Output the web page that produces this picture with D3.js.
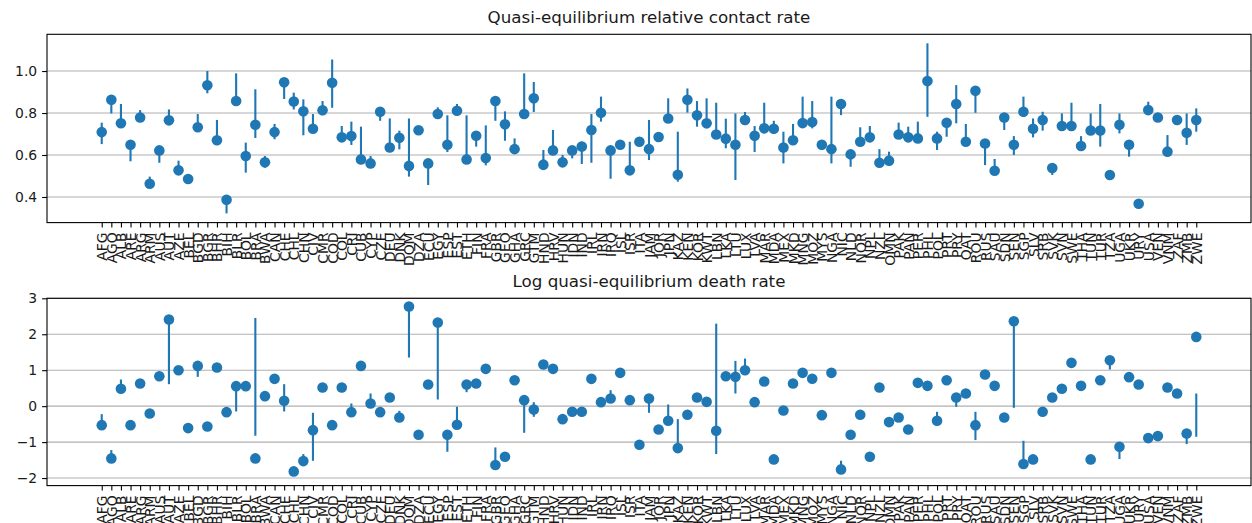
<!DOCTYPE html>
<html>
<head>
<meta charset="utf-8">
<script src="https://cdn.jsdelivr.net/npm/d3@7"></script>
<style>
  html, body { margin: 0; padding: 0; background: #fff; }
  svg { display: block; }
  text { font-family: "DejaVu Sans", sans-serif; fill: #1a1a1a; }
</style>
</head>
<body>
<svg id="chart" width="1252" height="523"></svg>
<script>
// Country codes along the x axis
const countries = [
  "AFG","AGO","ALB","ARE","ARG","ARM","AUS","AUT","AZE",
  "BEL","BGD","BGR","BHR","BIH","BLR","BOL","BRA","BWA",
  "CAN","CHE","CHL","CHN","CIV","CMR","COD","COL","CRI","CUB","CYP","CZE",
  "DEU","DNK","DOM","DZA",
  "ECU","EGY","ESP","EST","ETH",
  "FIN","FRA",
  "GBR","GEO","GHA","GRC","GTM",
  "HND","HRV","HUN",
  "IDN","IND","IRL","IRN","IRQ","ISL","ISR","ITA",
  "JAM","JOR","JPN",
  "KAZ","KEN","KOR","KWT",
  "LBN","LKA","LTU","LUX","LVA",
  "MAR","MDA","MEX","MKD","MNG","MOZ","MYS",
  "NGA","NIC","NLD","NOR","NPL","NZL",
  "OMN",
  "PAK","PAN","PER","PHL","POL","PRT","PRY",
  "QAT",
  "ROU","RUS",
  "SAU","SDN","SEN","SGP","SLV","SRB","SVK","SVN","SWE",
  "THA","TUN","TUR","TZA",
  "UGA","UKR","URY","USA",
  "VEN","VNM",
  "ZAF","ZMB","ZWE"
];

// Quasi-equilibrium relative contact rate: estimate and interval ends
const contactValue = [
  0.709,0.863,0.751,0.649,0.779,0.463,0.622,0.765,0.527,0.486,
  0.732,0.932,0.670,0.387,0.857,0.595,0.744,0.565,0.709,0.946,
  0.855,0.808,0.725,0.813,0.944,0.684,0.690,0.579,0.560,0.806,
  0.636,0.682,0.548,0.718,0.560,0.795,0.649,0.811,0.579,0.692,
  0.586,0.857,0.746,0.628,0.795,0.870,0.554,0.622,0.565,0.622,
  0.640,0.719,0.801,0.622,0.649,0.527,0.663,0.628,0.686,0.774,
  0.506,0.863,0.789,0.751,0.698,0.678,0.649,0.767,0.692,0.727,
  0.725,0.636,0.670,0.752,0.757,0.649,0.628,0.843,0.603,0.663,
  0.684,0.563,0.573,0.698,0.684,0.679,0.952,0.679,0.754,0.843,
  0.663,0.906,0.655,0.525,0.779,0.649,0.806,0.725,0.767,0.538,
  0.738,0.738,0.643,0.717,0.717,0.505,0.744,0.649,0.368,0.814,
  0.779,0.616,0.767,0.706,0.767
];
const contactLow = [
  0.652,0.798,0.751,0.570,0.779,0.463,0.563,0.765,0.527,null,
  0.732,0.894,0.670,0.322,0.857,0.516,0.681,0.540,0.675,0.867,
  0.817,0.694,0.725,0.790,0.825,0.663,0.648,0.579,0.560,0.763,
  0.636,0.627,0.497,null,0.457,0.795,0.614,0.811,0.579,0.640,
  0.551,0.763,0.668,0.628,0.795,0.805,0.528,0.622,0.544,0.584,
  0.557,0.563,0.759,0.487,0.636,0.527,null,0.576,0.686,0.774,
  0.473,0.802,0.735,0.727,0.698,0.632,0.481,0.767,0.614,0.727,
  0.703,0.560,0.670,0.752,0.727,0.624,0.560,0.790,0.544,0.663,
  0.663,0.540,0.549,0.679,0.663,0.679,0.782,0.624,0.687,0.751,
  0.663,0.801,0.552,0.525,0.719,0.600,0.782,0.684,0.716,0.505,
  0.719,0.719,0.624,0.695,0.640,0.484,0.703,0.592,null,0.798,
  0.759,0.600,0.752,0.648,0.711
];
const contactHigh = [
  0.754,0.863,0.843,0.649,0.814,0.497,0.622,0.817,0.573,null,
  0.795,1.000,0.767,0.387,0.989,0.659,0.913,0.595,0.748,0.965,
  0.897,0.865,0.795,0.857,1.055,0.738,0.759,0.735,0.595,0.806,
  0.774,0.716,0.774,null,0.560,0.827,0.789,0.843,0.789,0.692,
  0.741,0.857,0.808,0.679,0.989,0.948,0.624,0.719,0.600,0.640,
  0.663,0.795,0.878,0.644,0.663,0.663,null,0.767,0.706,0.870,
  0.711,0.917,0.857,0.870,0.849,0.773,0.798,0.805,0.738,0.849,
  0.763,0.711,0.748,0.878,0.857,0.671,0.878,0.862,0.603,0.732,
  0.738,0.628,0.616,0.754,0.735,0.759,1.132,0.711,0.774,0.933,
  0.748,0.922,0.671,0.581,0.798,0.690,0.878,0.774,0.806,0.560,
  0.798,0.849,0.690,0.798,0.843,0.521,0.798,0.671,null,0.854,
  0.798,0.695,0.783,0.798,0.822
];

// Log quasi-equilibrium death rate: estimate and interval ends
const deathValue = [
  -0.528,-1.453,0.482,-0.528,0.630,-0.204,0.833,2.407,1.000,-0.611,
  1.120,-0.565,1.074,-0.167,0.556,0.556,-1.453,0.278,0.759,0.148,
  -1.815,-1.528,-0.667,0.519,-0.528,0.519,-0.167,1.120,0.074,-0.167,
  0.241,-0.315,2.770,-0.796,0.602,2.324,-0.796,-0.519,0.602,0.630,
  1.037,-1.639,-1.407,0.722,0.167,-0.093,1.157,1.037,-0.361,-0.157,
  -0.157,0.759,0.111,0.213,0.926,0.167,-1.074,0.213,-0.648,-0.407,
  -1.167,-0.241,0.241,0.120,-0.685,0.833,0.815,1.000,0.111,0.685,
  -1.481,-0.120,0.630,0.926,0.764,-0.250,0.926,-1.759,-0.796,-0.241,
  -1.407,0.519,-0.444,-0.315,-0.648,0.648,0.565,-0.407,0.722,0.241,
  0.352,-0.528,0.880,0.565,-0.315,2.361,-1.611,-1.481,-0.157,0.241,
  0.482,1.204,0.565,-1.481,0.722,1.278,-1.130,0.806,0.602,-0.889,
  -0.833,0.519,0.352,-0.759,1.926
];
const deathLow = [
  -0.528,-1.453,0.482,null,null,null,null,0.611,null,null,
  0.815,null,null,null,-0.148,null,-0.824,null,null,-0.148,
  null,-1.528,-1.519,null,null,null,-0.167,null,-0.019,-0.220,
  null,-0.315,1.352,null,null,0.185,-1.269,-0.519,0.389,null,
  null,-1.639,null,null,-0.741,-0.296,null,null,null,null,
  null,null,null,0.213,0.850,null,null,-0.185,null,-0.407,
  -1.167,null,null,null,-1.333,null,0.352,1.000,null,null,
  null,null,null,null,null,null,0.926,-1.759,-0.796,null,
  null,null,null,null,null,null,null,-0.407,null,-0.019,
  null,-0.944,null,null,null,-0.046,-1.611,null,null,null,
  null,null,null,null,null,1.019,-1.472,null,null,null,
  null,null,null,-1.056,-0.852
];
const deathHigh = [
  -0.222,-1.222,0.741,null,null,null,null,2.407,null,null,
  1.120,null,null,null,0.556,null,2.454,null,null,0.611,
  null,-1.333,-0.185,null,null,null,0.074,null,0.352,-0.110,
  null,-0.130,2.770,null,null,2.324,-0.796,-0.019,0.602,null,
  null,-1.148,null,null,0.167,0.111,null,null,null,null,
  null,null,null,0.444,1.000,null,null,0.213,null,0.046,
  -0.361,null,null,null,2.296,null,1.259,1.324,null,null,
  null,null,null,null,null,null,1.050,-1.518,-0.700,null,
  null,null,null,null,null,null,null,-0.157,null,0.241,
  null,-0.157,null,null,null,2.361,-0.963,null,null,null,
  null,null,null,null,null,1.278,-1.130,null,null,null,
  null,null,null,-0.759,0.352
];

const contactTicks = [0.4, 0.6, 0.8, 1.0];
const deathTicks = [-2, -1, 0, 1, 2, 3];

const blue = "#1f77b4";
const svg = d3.select("#chart");
svg.append("rect").attr("width", 1252).attr("height", 523).attr("fill", "#fff");

const left = 47, right = 1251;
const tickLen = 4.9, tickPad = 4.9;

const x = d3.scaleLinear()
  .domain([-5.7, countries.length - 1 + 5.7])
  .range([left, right]);

function panel(cfg) {
  const y = d3.scaleLinear().domain(cfg.domain).range([cfg.bottom, cfg.top]);
  const g = svg.append("g");

  // horizontal grid
  g.append("g").selectAll("line").data(cfg.ticks).join("line")
    .attr("x1", left).attr("x2", right)
    .attr("y1", d => y(d)).attr("y2", d => y(d))
    .attr("stroke", "#b0b0b0").attr("stroke-width", 1.1);

  const idx = d3.range(countries.length);

  // interval bars
  g.append("g").selectAll("line")
    .data(idx.filter(i => cfg.low[i] !== null))
    .join("line")
    .attr("x1", i => x(i)).attr("x2", i => x(i))
    .attr("y1", i => y(cfg.low[i])).attr("y2", i => y(cfg.high[i]))
    .attr("stroke", blue).attr("stroke-width", 2.1);

  // point estimates
  g.append("g").selectAll("circle").data(idx).join("circle")
    .attr("cx", i => x(i)).attr("cy", i => y(cfg.value[i]))
    .attr("r", 5.3).attr("fill", blue);

  // frame
  g.append("rect")
    .attr("x", left).attr("y", cfg.top)
    .attr("width", right - left).attr("height", cfg.bottom - cfg.top)
    .attr("fill", "none").attr("stroke", "#000").attr("stroke-width", 1.1);

  // y axis
  const ya = g.append("g").attr("transform", `translate(${left},0)`)
    .call(d3.axisLeft(y).tickValues(cfg.ticks).tickFormat(cfg.fmt)
      .tickSize(tickLen).tickPadding(tickPad));
  ya.select(".domain").remove();
  ya.selectAll("line").attr("stroke", "#000").attr("stroke-width", 1.1);
  ya.selectAll("text").attr("font-size", "13.9px").attr("fill", "#1a1a1a")
    .attr("font-family", "DejaVu Sans");

  // x axis with rotated country codes
  const xa = g.append("g").attr("transform", `translate(0,${cfg.bottom})`)
    .call(d3.axisBottom(x).tickValues(idx).tickFormat(i => countries[i])
      .tickSize(tickLen).tickPadding(tickPad));
  xa.select(".domain").remove();
  xa.selectAll("line").attr("stroke", "#000").attr("stroke-width", 1.1);
  xa.selectAll("text")
    .attr("transform", "rotate(-90)")
    .attr("x", -(tickLen + tickPad)).attr("y", 0).attr("dy", "0.36em")
    .attr("text-anchor", "end")
    .attr("font-size", "13.9px").attr("fill", "#1a1a1a")
    .attr("font-family", "DejaVu Sans");

  // title
  g.append("text")
    .attr("x", (left + right) / 2).attr("y", cfg.top - 11)
    .attr("text-anchor", "middle")
    .attr("font-size", "16.7px")
    .text(cfg.title);
}

panel({
  title: "Quasi-equilibrium relative contact rate",
  top: 34.3, bottom: 222.6,
  domain: [0.278, 1.175],
  ticks: contactTicks, fmt: d3.format(".1f"),
  value: contactValue, low: contactLow, high: contactHigh
});

panel({
  title: "Log quasi-equilibrium death rate",
  top: 298.3, bottom: 485.6,
  domain: [-2.21, 3.0],
  ticks: deathTicks, fmt: d3.format("d"),
  value: deathValue, low: deathLow, high: deathHigh
});
</script>
</body>
</html>
